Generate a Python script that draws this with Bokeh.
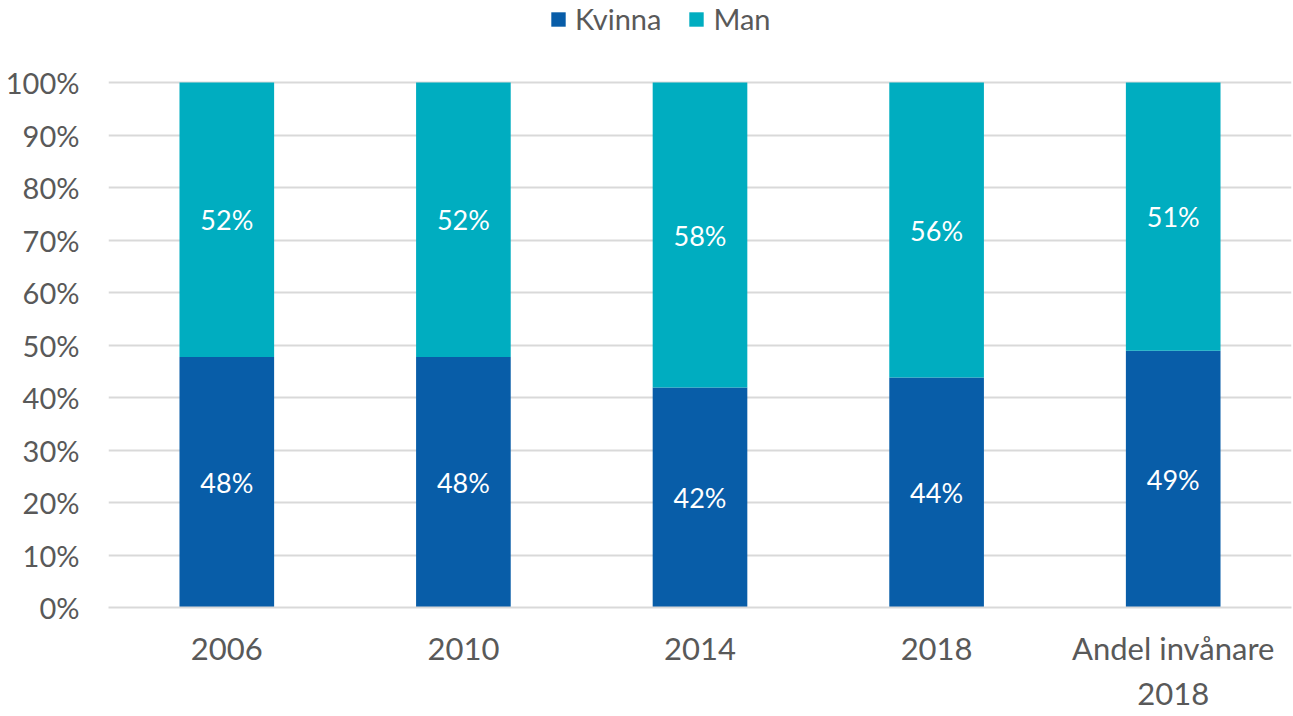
from bokeh.plotting import figure
from bokeh.models import ColumnDataSource, Range1d, FactorRange, NumeralTickFormatter, Legend, LegendItem, FixedTicker
from bokeh.core.properties import value
from bokeh.embed import file_html
from bokeh.resources import INLINE

categories = ["2006", "2010", "2014", "2018", "Andel invånare\n2018"]
kvinna = [0.477, 0.477, 0.419, 0.438, 0.489]
man = [0.523, 0.523, 0.581, 0.562, 0.511]
series = ["Kvinna", "Man"]
colors = ["#085DA8", "#00ADC0"]
y_ticks = [0, 0.1, 0.2, 0.3, 0.4, 0.5, 0.6, 0.7, 0.8, 0.9, 1.0]

FONT = "Lato"
GRAY = "#595959"

src = ColumnDataSource(dict(
    cat=categories,
    Kvinna=kvinna,
    Man=man,
    k_mid=[k / 2 for k in kvinna],
    m_mid=[k + m / 2 for k, m in zip(kvinna, man)],
    k_lab=[f"{round(k * 100)}%" for k in kvinna],
    m_lab=[f"{round(m * 100)}%" for m in man],
))

# frame spans the full height above the bars so the legend fits inside it
p = figure(width=1293, height=716, x_range=FactorRange(*categories, range_padding=0),
           y_range=Range1d(0, 1 + 82 / 525), output_backend="svg", toolbar_location=None,
           min_border_left=108, min_border_right=2, min_border_top=0, min_border_bottom=109)
p.outline_line_color = None
p.background_fill_color = "white"

rs = p.vbar_stack(series, x="cat", width=0.4, color=colors, source=src, line_color=None)

p.text(x="cat", y="k_mid", text="k_lab", source=src, text_color="white",
       text_font=value(FONT), text_font_size="27px", text_align="center", text_baseline="middle")
p.text(x="cat", y="m_mid", text="m_lab", source=src, text_color="white",
       text_font=value(FONT), text_font_size="27px", text_align="center", text_baseline="middle")

p.yaxis.ticker = FixedTicker(ticks=y_ticks)
p.yaxis.formatter = NumeralTickFormatter(format="0%")
p.yaxis.axis_line_color = None
p.yaxis.major_tick_line_color = None
p.yaxis.minor_tick_line_color = None
p.yaxis.major_label_text_font = FONT
p.yaxis.major_label_text_font_size = "29px"
p.yaxis.major_label_text_color = GRAY
p.yaxis.major_label_standoff = 23

p.xaxis.axis_line_color = "#D9D9D9"
p.xaxis.axis_line_width = 2
p.xaxis.major_tick_line_color = None
p.xaxis.minor_tick_line_color = None
p.xaxis.major_label_text_font = FONT
p.xaxis.major_label_text_font_size = "31px"
p.xaxis.major_label_text_color = GRAY
p.xaxis.major_label_standoff = 15

p.xgrid.grid_line_color = None
p.ygrid.grid_line_color = "#D9D9D9"
p.ygrid.grid_line_width = 2

legend = Legend(items=[LegendItem(label=s, renderers=[r]) for s, r in zip(series, rs)],
                orientation="horizontal", location=(441, 571),
                label_text_font=FONT, label_text_font_size="29px", label_text_color=GRAY,
                glyph_width=18, glyph_height=18, label_standoff=8, spacing=26,
                padding=0, margin=0, border_line_color=None, background_fill_alpha=0)
p.add_layout(legend, "center")

open("out.html", "w").write(file_html(p, INLINE))
